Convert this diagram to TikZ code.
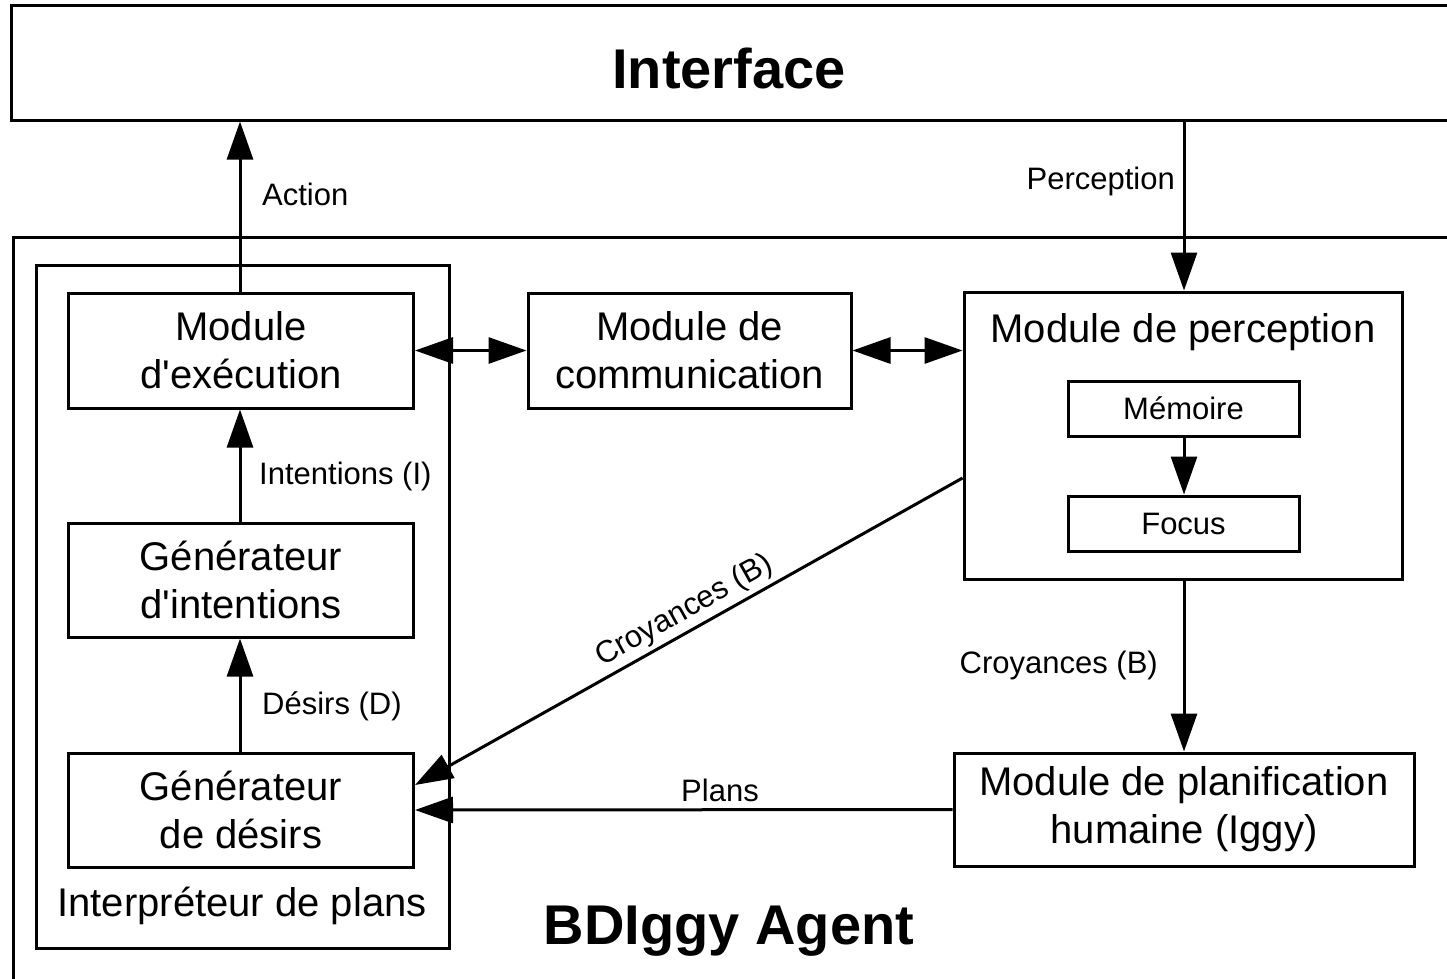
\documentclass[tikz,border=0pt]{standalone}
\usepackage{fontspec}
\setmainfont{Liberation Sans}
\usetikzlibrary{arrows.meta,calc}

\tikzset{
  box/.style={draw, line width=3pt, inner sep=0pt, align=center,
    font=\fontsize{40}{48}\selectfont},
  smallbox/.style={draw, line width=3pt, inner sep=0pt, align=center,
    font=\fontsize{31}{37}\selectfont},
  lbl/.style={inner sep=0pt, font=\fontsize{31}{37}\selectfont},
  title/.style={inner sep=0pt, font=\fontsize{56}{66}\selectfont\bfseries},
  flow/.style={line width=3pt, -{Triangle[length=38pt,width=26pt]}},
  flow2/.style={line width=3pt, {Triangle[length=38pt,width=26pt]}-{Triangle[length=38pt,width=26pt]}}
}
\newcommand{\apos}{\textquotesingle}

\begin{document}
\begin{tikzpicture}[x=1pt,y=-1pt]
\useasboundingbox (0,0) rectangle (1447,978);
\clip (0,0) rectangle (1447,978);
\fill[white] (0,0) rectangle (1447,978);

% outer frames
\node[box, minimum width=1437pt, minimum height=114.5pt] (iface) at (730,62.75) {};
\node[title] (ifacetxt) at (729,68) {Interface};
\node[draw, line width=3pt, inner sep=0pt, minimum width=1437pt, minimum height=780pt,
      anchor=north west] (agent) at (11.5,236) {};
\node[title] (agenttxt) at (729,931) {BDIggy Agent};

% plan interpreter
\node[draw, line width=3pt, inner sep=0pt, minimum width=413pt, minimum height=683pt,
      anchor=north west] (interp) at (35,263.5) {};
\node[box, draw=none] (interptxt) at (242,906) {Interpréteur de plans};

\node[box, minimum width=345pt, minimum height=115pt] (exec) at (241,350.5) {Module\\d\apos exécution};
\node[box, minimum width=345pt, minimum height=114pt] (gint) at (241,580) {Générateur\\d\apos intentions};
\node[box, minimum width=345pt, minimum height=114pt] (gdes) at (241,810) {Générateur\\de désirs};

% communication
\node[box, minimum width=323pt, minimum height=115pt] (comm) at (689.5,350.5) {Module de\\communication};

% perception
\node[box, minimum width=438pt, minimum height=287pt] (perc) at (1183,435.5) {};
\node[box, draw=none] (perctxt) at (1183,332) {Module de perception};
\node[smallbox, minimum width=231pt, minimum height=55pt] (mem) at (1183.5,408.5) {Mémoire};
\node[smallbox, minimum width=231pt, minimum height=55pt] (focus) at (1183.5,523.5) {Focus};

% planning
\node[box, minimum width=460pt, minimum height=113pt] (plan) at (1184,809.5) {Module de planification\\humaine (Iggy)};

% connectors
\draw[flow] (exec.north -| 240,0) -- (iface.south -| 240,0);
\node[lbl, anchor=west] (lact) at (262,194) {Action};

\draw[flow] (iface.south -| 1184,0) -- (perc.north -| 1184,0);
\node[lbl, anchor=east] (lperc) at (1175,181) {Perception};

\draw[flow2] (exec.east) -- (comm.west);
\draw[flow2] (comm.east) -- (perc.west |- comm.east);

\draw[flow] (gint.north -| 240,0) -- (exec.south -| 240,0);
\node[lbl, anchor=west] (lint) at (259,476) {Intentions (I)};

\draw[flow] (gdes.north -| 240,0) -- (gint.south -| 240,0);
\node[lbl, anchor=west] (ldes) at (262,706) {Désirs (D)};

\draw[flow] (mem.south -| 1184,0) -- (focus.north -| 1184,0);

\coordinate (diagA) at ($(perc.west)+(0,42.5)$);
\coordinate (diagB) at ($(gdes.east)+(0,-25)$);
\draw[flow] (diagA) -- node[lbl, pos=0.49, sloped, above=4pt] {Croyances (B)} (diagB);

\draw[flow] (perc.south -| 1184,0) -- (plan.north -| 1184,0);
\node[lbl, anchor=east] (lcroy) at (1158,665) {Croyances (B)};

\draw[flow] (plan.west) -- (gdes.east);
\node[lbl] (lplans) at (720,790) {Plans};
\end{tikzpicture}
\end{document}
